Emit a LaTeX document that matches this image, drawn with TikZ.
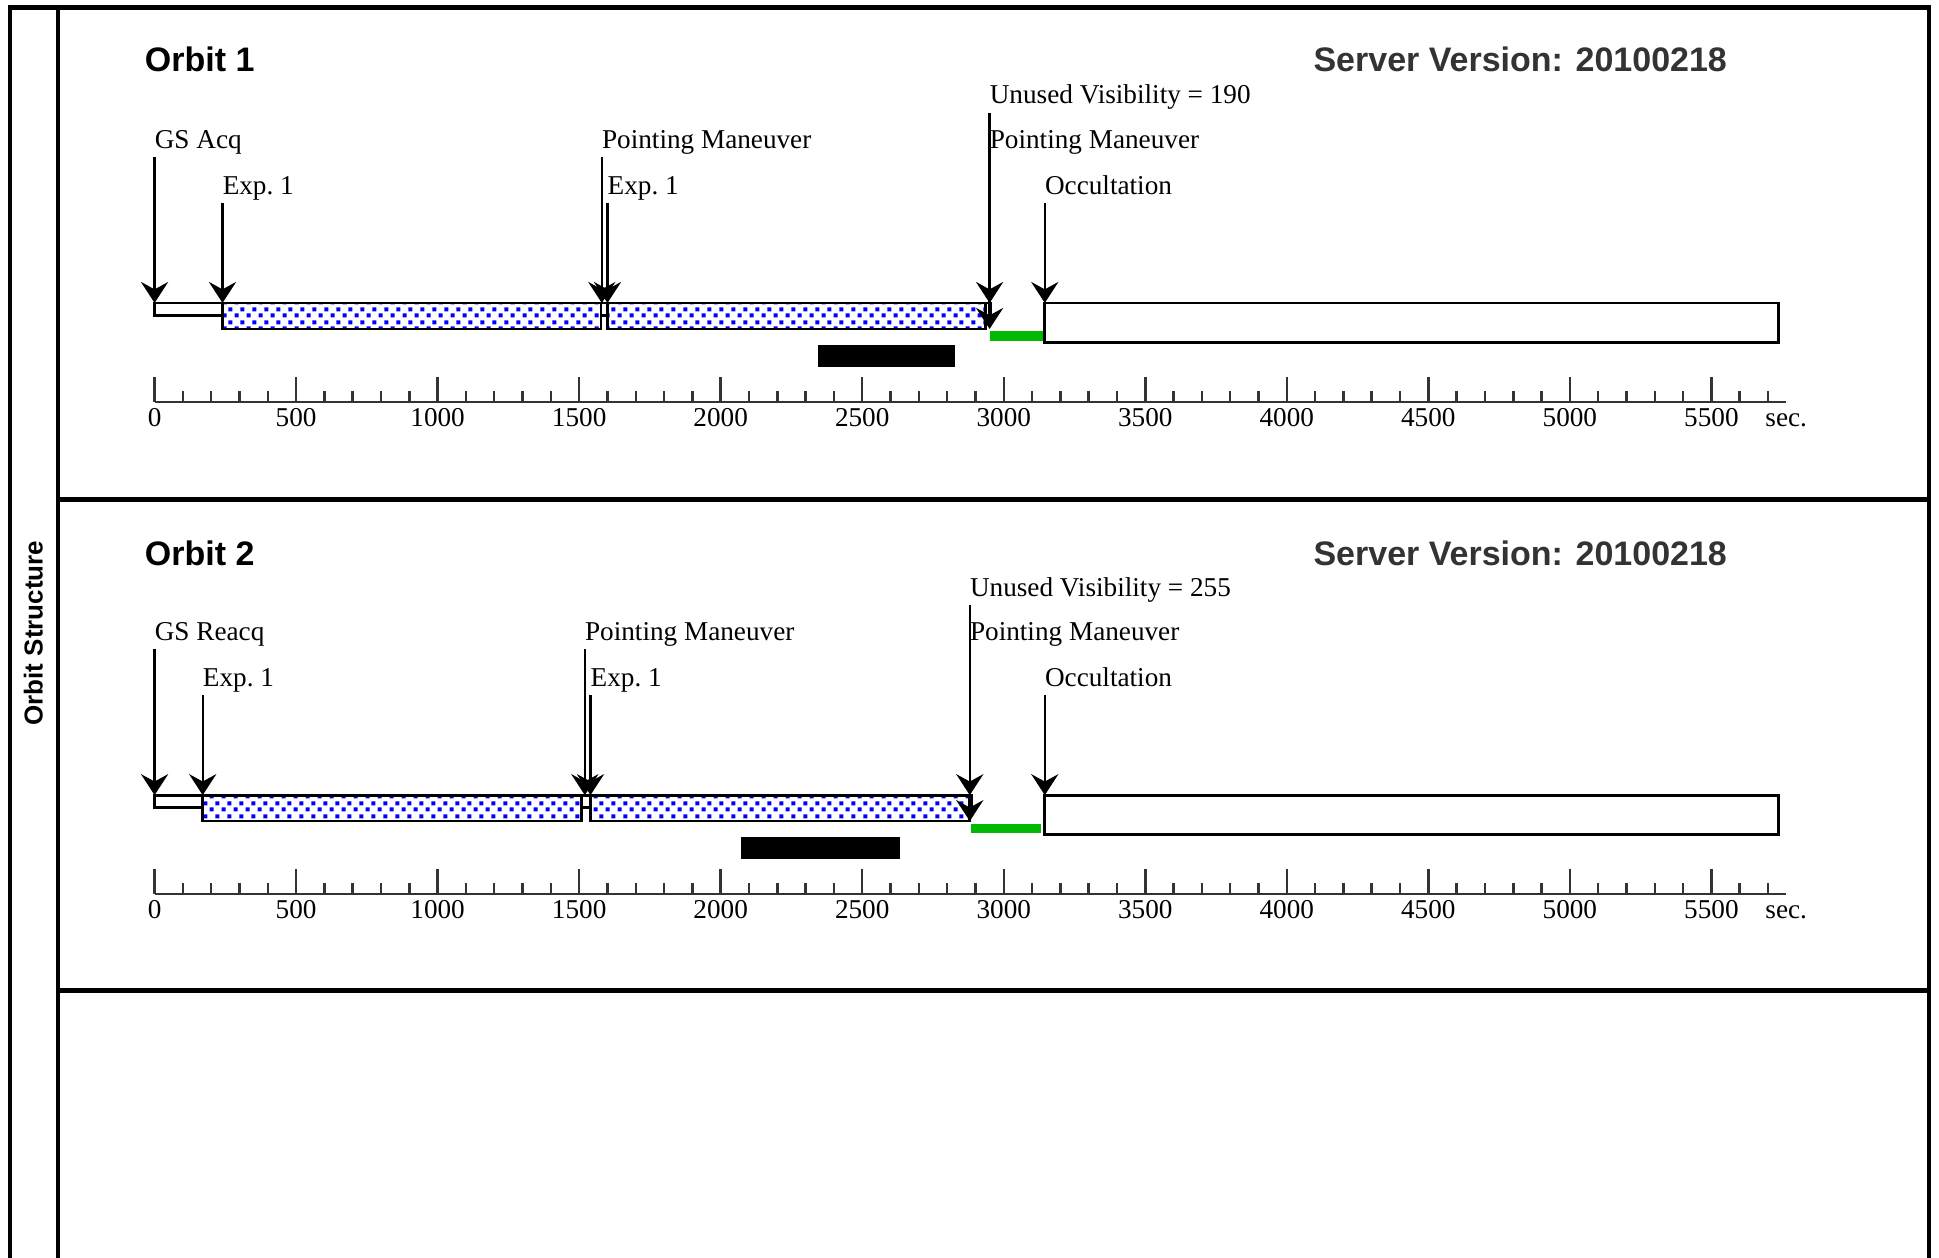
\documentclass[tikz,border=0pt]{standalone}
\usepackage{fontspec}
\setmainfont{Liberation Serif}
\setsansfont{Liberation Sans}
\usetikzlibrary{arrows.meta,patterns}
\definecolor{servergray}{RGB}{51,51,51}
\definecolor{axisgray}{RGB}{51,51,51}
\definecolor{unusedgreen}{RGB}{0,185,0}
\definecolor{dotblue}{RGB}{0,0,255}
% checkered blue dots of the exposure bars
\pgfdeclarepatternformonly{expdots}{\pgfqpoint{0pt}{0pt}}{\pgfqpoint{10pt}{10pt}}{\pgfqpoint{10pt}{10pt}}{%
  \pgfpathrectangle{\pgfqpoint{0.5pt}{0.5pt}}{\pgfqpoint{3.4pt}{3.4pt}}%
  \pgfpathrectangle{\pgfqpoint{5.5pt}{5.5pt}}{\pgfqpoint{3.4pt}{3.4pt}}%
  \pgfusepath{fill}}
\begin{document}
\begin{tikzpicture}[x=1pt,y=-1pt,
  frame/.style={line width=3.5pt},
  title/.style={font=\sffamily\bfseries\fontsize{27.5}{30}\selectfont,anchor=base west,inner sep=0},
  evlabel/.style={font=\fontsize{22}{24}\selectfont,anchor=base west,inner sep=0,text depth=7pt},
  evarrow/.style={line width=1.8pt,-{Stealth[length=17pt,width=22pt,inset=6pt]}},
  numlabel/.style={font=\fontsize{22}{24}\selectfont,anchor=base,inner sep=0},
  slot/.style={draw,line width=2.2pt,fill=white},
  expbar/.style={draw,line width=2.2pt,pattern=expdots,pattern color=dotblue},
  axis/.style={draw=axisgray,line width=2pt}]
\path[use as bounding box,fill=white] (0,0) rectangle (1568,1017);
% frame
\draw[frame] (8,1017) -- (8,6) -- (1560,6) -- (1560,1017);
\draw[frame] (47,6) -- (47,1017);
\draw[frame] (47,404) -- (1560,404);
\draw[frame] (47,801) -- (1560,801);
\node[font=\sffamily\bfseries\fontsize{21}{23}\selectfont,rotate=90] (side) at (27,512) {Orbit Structure};
\node[title] (orbit1) at (117,58) {Orbit 1};
\node[title,text=servergray] (server1) at (1062,58) {Server Version: 20100218};
\node[title] (orbit2) at (117,457) {Orbit 2};
\node[title,text=servergray] (server2) at (1062,457) {Server Version: 20100218};

% orbit 1, x in seconds
\begin{scope}[xshift=125pt,x=0.22889pt]
\draw[slot] (0,245) rectangle (240,255);
\draw[expbar] (240,245) rectangle (1577,266);
\draw[slot] (1577,245) rectangle (1600,255);
\draw[expbar] (1600,245) rectangle (2936,266);
\draw[slot] (2936,245) rectangle (2952,255);
\fill[unusedgreen] (2952,268) rectangle (3143,276);
\draw[slot] (3145,245) rectangle (5736,277);
\fill[black] (2342,279) rectangle (2827,297);
\node[evlabel] (uv1) at (2950,84) {Unused Visibility = 190};
\node[evlabel] (gs1) at (0,120) {GS Acq};
\node[evlabel] (pm1a) at (1580,120) {Pointing Maneuver};
\node[evlabel] (pm1b) at (2950,120) {Pointing Maneuver};
\node[evlabel] (ex1a) at (240,157) {Exp.~1};
\node[evlabel] (ex1b) at (1600,157) {Exp.~1};
\node[evlabel] (oc1) at (3145,157) {Occultation};
\coordinate (bartop1) at (0,245);
\coordinate (greentop1) at (0,266);
\foreach \lbl in {gs1,pm1a,pm1b,ex1a,ex1b,oc1}
  \draw[evarrow] (\lbl.south west) -- (\lbl.south west |- bartop1);
\draw[evarrow] (uv1.south west) -- (uv1.south west |- greentop1);
% time axis
\draw[axis] (0,325) -- (5765,325);
\foreach \s in {0,100,...,5700}
  \draw[axis] (\s,325) -- (\s,316);
\foreach \s in {0,500,...,5500}{
  \draw[axis] (\s,325) -- (\s,305);
  \node[numlabel] (ta\s) at (\s,345) {\s};}
\node[numlabel,anchor=base west] (sec1) at (5690,345) {sec.};
\end{scope}

% orbit 2
\begin{scope}[yshift=-398pt,xshift=125pt,x=0.22889pt]
\draw[slot] (0,245) rectangle (170,255);
\draw[expbar] (170,245) rectangle (1507,266);
\draw[slot] (1507,245) rectangle (1540,255);
\draw[expbar] (1540,245) rectangle (2879,266);
\draw[slot] (2879,245) rectangle (2885,255);
\fill[unusedgreen] (2885,268) rectangle (3133,276);
\draw[slot] (3145,245) rectangle (5736,277);
\fill[black] (2071,279) rectangle (2634,297);
\node[evlabel] (uv2) at (2880,84) {Unused Visibility = 255};
\node[evlabel] (gs2) at (0,120) {GS Reacq};
\node[evlabel] (pm2a) at (1520,120) {Pointing Maneuver};
\node[evlabel] (pm2b) at (2880,120) {Pointing Maneuver};
\node[evlabel] (ex2a) at (170,157) {Exp.~1};
\node[evlabel] (ex2b) at (1540,157) {Exp.~1};
\node[evlabel] (oc2) at (3145,157) {Occultation};
\coordinate (bartop2) at (0,245);
\coordinate (greentop2) at (0,266);
\foreach \lbl in {gs2,pm2a,pm2b,ex2a,ex2b,oc2}
  \draw[evarrow] (\lbl.south west) -- (\lbl.south west |- bartop2);
\draw[evarrow] (uv2.south west) -- (uv2.south west |- greentop2);
% time axis
\draw[axis] (0,325) -- (5765,325);
\foreach \s in {0,100,...,5700}
  \draw[axis] (\s,325) -- (\s,316);
\foreach \s in {0,500,...,5500}{
  \draw[axis] (\s,325) -- (\s,305);
  \node[numlabel] (tb\s) at (\s,345) {\s};}
\node[numlabel,anchor=base west] (sec2) at (5690,345) {sec.};
\end{scope}
\end{tikzpicture}
\end{document}
